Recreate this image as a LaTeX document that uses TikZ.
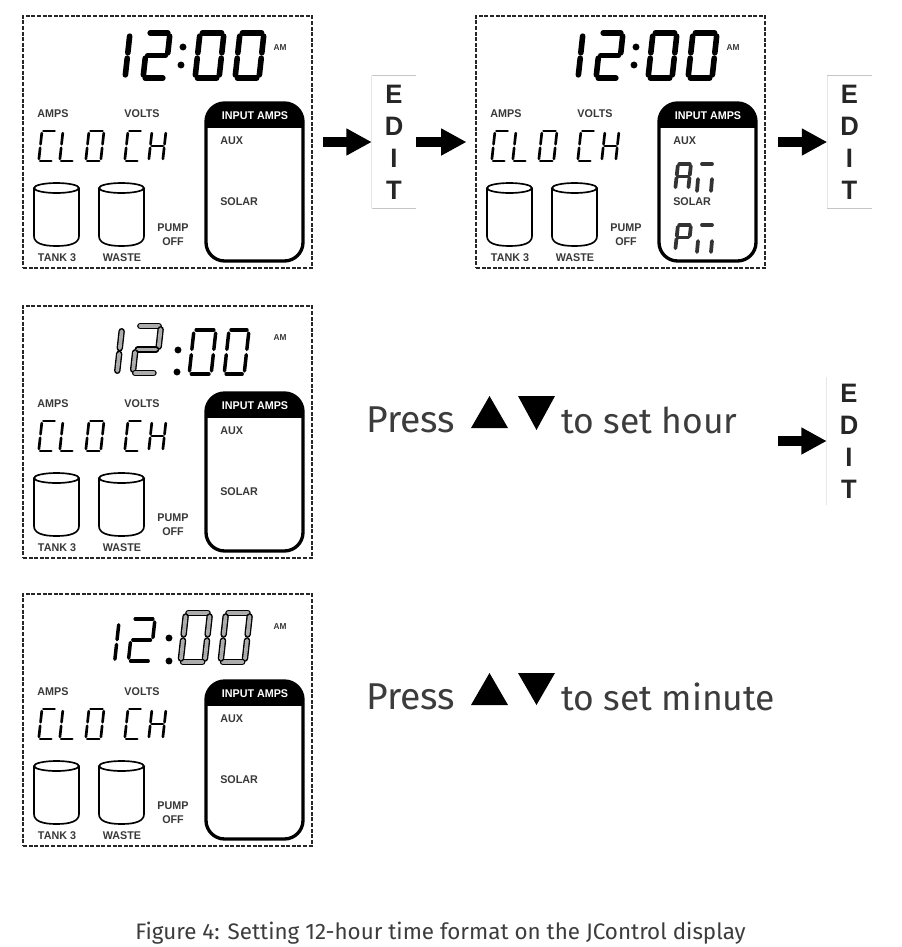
\documentclass[tikz,border=0pt]{standalone}
\usepackage{fontspec}
\usepackage{tikz}
\usetikzlibrary{arrows.meta, calc, positioning}
\setmainfont{Fira Sans}
\newfontfamily\lcdfont{Liberation Sans}[FakeStretch=0.96]

\definecolor{labelgrey}{HTML}{383838}
\definecolor{textgrey}{HTML}{3C3C3C}

\tikzset{
	segthick/.style={line width=4.2pt, line cap=round},
	segmid/.style={line width=2.6pt, line cap=round},
	segthin/.style={line width=2pt, line cap=round},
	seglit/.style={draw=black, line width=1pt, double=gray!65, double distance=2.8pt, line cap=round},
	seggrey/.style={line width=2.8pt, line cap=round, draw=black!80},
	lcdlabel/.style={font=\lcdfont\bfseries\fontsize{8.4}{9}\selectfont, text=labelgrey, inner sep=0pt},
	ampmlabel/.style={lcdlabel, font=\lcdfont\bfseries\fontsize{6.5}{7}\selectfont},
	lcdframe/.style={draw=black!85, line width=1.2pt, dash pattern=on 3pt off 1.2pt, minimum width=216.75pt, minimum height=189pt, inner sep=0pt},
	tankline/.style={line width=1.25pt},
	inputbox/.style={line width=2.5pt, rounded corners=14pt},
	bigarrow/.style={line width=7pt, -{Triangle[length=19pt, width=19pt]}},
	editbox/.style={font=\lcdfont\bfseries\fontsize{20}{24}\selectfont, text=black!85, align=center, minimum width=33pt, minimum height=99pt, inner sep=0pt},
	editline/.style={draw=gray!45, line width=0.5pt},
	presstext/.style={font=\fontsize{26.6}{32}\selectfont, text=textgrey, inner sep=0pt},
	pressword/.style={presstext, font=\fontsize{28}{32}\selectfont},
}

\newcommand{\sega}{\draw[\segstyle] (0.1,0) -- (0.9,0);}
\newcommand{\segb}{\draw[\segstyle] (1,0.07) -- (1,0.44);}
\newcommand{\segc}{\draw[\segstyle] (1,0.56) -- (1,0.93);}
\newcommand{\segd}{\draw[\segstyle] (0.1,1) -- (0.9,1);}
\newcommand{\sege}{\draw[\segstyle] (0,0.56) -- (0,0.93);}
\newcommand{\segf}{\draw[\segstyle] (0,0.07) -- (0,0.44);}
\newcommand{\segg}{\draw[\segstyle] (0.1,0.5) -- (0.9,0.5);}

\newcommand{\segdigit}[6]{%
	\begin{scope}[shift={(#2,#3)}, xslant=0.11, xscale=#4, yscale=#5]
		\def\segstyle{#1}
		\foreach \segname in {#6} {\csname seg\segname\endcsname}
	\end{scope}
}

\newcommand{\tank}[1]{%
	\draw[tankline] (#1,188) -- (#1,236) .. controls (#1,243) and (#1+8,246) .. (#1+22.5,246) .. controls (#1+37,246) and (#1+45,243) .. (#1+45,236) -- (#1+45,188);
	\draw[tankline] (#1+22.5,188) ellipse [x radius=22.5, y radius=5];
}

\newcommand{\lcdpanel}[3]{%
	\node[lcdframe] (panel#1) at (#2+167.5,#3+142) {};
	\begin{scope}[shift={(#2,#3)}]
		\node[lcdlabel] (amps#1) at (53,114) {AMPS};
		\node[lcdlabel] (volts#1) at (142,114) {VOLTS};
		\segdigit{segthin}{42}{131}{14}{30}{a,d,e,f}
		\segdigit{segthin}{63}{131}{14}{30}{d,e,f}
		\segdigit{segthin}{89}{131}{15}{30}{a,b,c,d,e,f}
		\segdigit{segthin}{128}{131}{14}{30}{a,d,e,f}
		\segdigit{segthin}{152}{131}{14}{30}{b,c,e,f,g}
		\tank{34}
		\tank{99}
		\node[lcdlabel] (tank#1) at (57,258) {TANK 3};
		\node[lcdlabel] (waste#1) at (122,258) {WASTE};
		\node[lcdlabel] (pump#1) at (173,228) {PUMP};
		\node[lcdlabel] (off#1) at (173,242) {OFF};
		\begin{scope}
			\clip (200,98) rectangle (310,127);
			\fill[rounded corners=14pt] (206,103) rectangle (303,261);
		\end{scope}
		\draw[inputbox] (206,103) rectangle (303,261);
		\node[lcdlabel, text=white] (input#1) at (255,116) {INPUT AMPS};
		\node[lcdlabel, anchor=west] (aux#1) at (220,141) {AUX};
		\node[lcdlabel, anchor=west] (solar#1) at (220,202) {SOLAR};
	\end{scope}
}

\newcommand{\thickclock}[2]{%
	\begin{scope}[shift={(#1,#2)}]
		\segdigit{segthick}{129}{33}{1}{45}{b,c}
		\segdigit{segthick}{148}{33}{22}{45}{a,b,g,e,d}
		\fill (183,47) circle (2.6pt);
		\fill (181,65) circle (2.6pt);
		\segdigit{segthick}{200}{33}{24}{45}{a,b,c,d,e,f}
		\segdigit{segthick}{240}{33}{24}{45}{a,b,c,d,e,f}
		\node[ampmlabel] (ampm#1) at (280,48) {AM};
	\end{scope}
}

\begin{document}
\begin{tikzpicture}[x=0.75pt, y=-0.75pt]
	\useasboundingbox (0,0) rectangle (901,947);

	\lcdpanel{a}{0}{0}
	\lcdpanel{b}{453}{0}
	\lcdpanel{c}{0}{290}
	\lcdpanel{d}{0}{578}

	\thickclock{0}{0}
	\thickclock{453}{0}

	\segdigit{seglit}{121}{328}{1}{46}{b,c}
	\segdigit{seglit}{138}{326}{23}{47}{a,b,g,e,d}
	\fill (178,350) circle (2.6pt);
	\fill (177,372) circle (2.6pt);
	\segdigit{segmid}{194}{330}{22}{44}{a,b,c,d,e,f}
	\segdigit{segmid}{229}{330}{20}{44}{a,b,c,d,e,f}
	\node[ampmlabel] (ampmc) at (280,338) {AM};

	\segdigit{segmid}{118}{622}{1}{40}{b,c}
	\segdigit{segmid}{133}{619}{22}{42}{a,b,g,e,d}
	\fill (169,638) circle (2.6pt);
	\fill (169,661) circle (2.6pt);
	\segdigit{seglit}{186}{613}{24}{49}{a,b,c,d,e,f}
	\segdigit{seglit}{226}{613}{24}{49}{a,b,c,d,e,f}
	\node[ampmlabel] (ampmd) at (280,627) {AM};

	\segdigit{seggrey}{678}{164}{13}{25}{a,b,c,e,f,g}
	\segdigit{seggrey}{678}{225}{13}{25}{a,b,e,f,g}
	\draw[seggrey] (702,164) -- (712,164);
	\draw[seggrey] (698,179) -- (697,191);
	\draw[seggrey] (712,179) -- (711,191);
	\draw[seggrey] (702,225) -- (712,225);
	\draw[seggrey] (698,241) -- (697,252);
	\draw[seggrey] (712,241) -- (711,252);

	\node[editbox] (edita) at (394,142) {E\\D\\I\\T};
	\node[editbox] (editb) at (849.5,142) {E\\D\\I\\T};
	\node[editbox, minimum height=95pt] (editc) at (849,441) {E\\D\\I\\T};
	\foreach \edit in {edita,editb} {
		\draw[editline] (\edit.north west) -- (\edit.north east);
		\draw[editline] (\edit.south west) -- (\edit.south east);
		\draw[editline, draw=gray!20] (\edit.north west) -- (\edit.south west);
	}
	\draw[editline, draw=gray!18] (editc.north west) -- (editc.south west);

	\draw[bigarrow, shorten <=7.5pt] (panela.east) -- (edita.west);
	\draw[bigarrow, shorten >=6.5pt] (edita.east) -- (panelb.west);
	\draw[bigarrow, shorten <=9pt] (panelb.east) -- (editb.west);

	\node[pressword, anchor=west] (presshour) at (366,420) {Press};
	\fill (471,428) -- (508,428) -- (489.5,396) -- cycle;
	\fill (518,396) -- (555,396) -- (536.5,430) -- cycle;
	\node[presstext, anchor=west] (sethour) at (561,420) {to set hour};
	\coordinate (hourend) at (778,441);
	\draw[bigarrow] (hourend) -- (editc.west);

	\node[pressword, anchor=west] (pressminute) at (366,697) {Press};
	\fill (471,705) -- (508,705) -- (489.5,673) -- cycle;
	\fill (518,673) -- (555,673) -- (536.5,705) -- cycle;
	\node[presstext, anchor=west] (setminute) at (561,697) {to set minute};

	\node[font=\fontsize{16.8}{20}\selectfont, text=textgrey, inner sep=0pt] (caption) at (440.5,933) {Figure 4: Setting 12-hour time format on the JControl display};
\end{tikzpicture}
\end{document}
